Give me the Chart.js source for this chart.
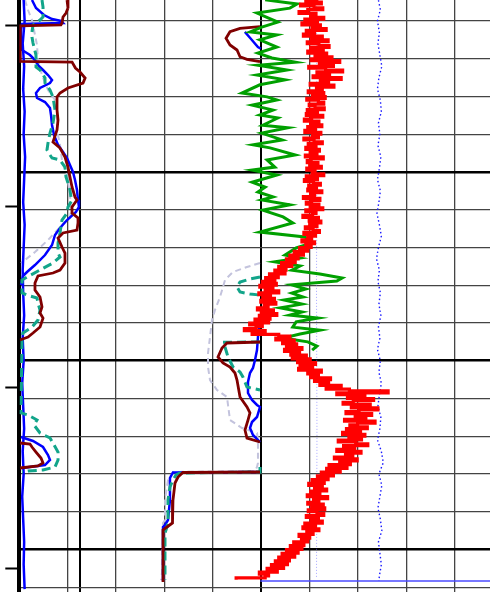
<!DOCTYPE html>
<html><head><meta charset="utf-8">
<script src="https://cdn.jsdelivr.net/npm/chart.js@4.4.0/dist/chart.umd.min.js"></script>
<style>html,body{margin:0;padding:0;background:#fff;}#wrap{width:490px;height:592px;position:relative;}</style>
</head><body><div id="wrap"><canvas id="c"></canvas></div>
<script>
// ---- axes / ticks ----
const depthTop = 1504.437, depthBottom = 1661.26;          // main depth scale
const gridDepths = [1510,1520,1530,1540,1550,1560,1570,1580,1590,1600,1610,1620,1630,1640,1650,1660];
const depthTickMin = 4992.818, depthTickMax = 5156.354;    // depth annotation axis
const depthTicks = [5000,5050,5100,5150];
const valueMin = 0, valueMax = 97.25;
const gridValues = [10,12.54,20,30,40,50,60,70,80,90];

// ---- curves: [depth, value] ----
const grCurve = [[1504.4,50.8],[1505.5,57.4],[1506.6,55.9],[1507.9,49.1],[1509.2,51.4],[1510.3,53.4],[1511.6,50.1],[1512.9,47.7],[1513.7,53.2],[1515.0,49.7],
[1516.9,53.2],[1518.5,49.3],[1519.8,52.2],[1520.9,57.0],[1521.7,49.3],[1523.0,55.3],[1524.3,49.1],[1525.6,54.9],[1526.9,49.7],[1529.1,46.0],
[1530.1,51.2],[1530.9,53.2],[1532.3,48.1],[1533.6,52.4],[1534.9,49.7],[1535.7,53.4],[1537.6,50.3],[1538.3,55.5],[1539.7,50.1],[1541.5,54.3],
[1542.8,48.3],[1543.6,51.8],[1545.5,57.0],[1546.8,51.2],[1548.7,52.8],[1549.5,48.1],[1550.8,53.2],[1552.7,48.1],[1554.0,50.8],[1555.3,49.3],
[1556.6,52.4],[1557.4,50.1],[1558.7,55.9],[1560.1,50.3],[1561.9,54.5],[1563.5,56.5],[1565.9,49.7],[1567.2,59.0],[1568.8,60.5],[1570.1,57.2],
[1572.0,54.9],[1572.8,58.0],[1573.8,52.8],[1574.9,58.0],[1576.0,56.3],[1577.0,62.1],[1578.1,66.7],[1578.9,65.6],[1579.9,56.3],[1581.0,59.2],
[1582.1,56.3],[1583.1,58.6],[1583.9,54.7],[1585.0,58.4],[1586.0,53.9],[1587.1,58.4],[1587.9,55.9],[1588.7,61.7],[1589.7,57.2],[1591.1,56.5],
[1591.9,62.1],[1592.9,58.0],[1594.0,54.5],[1595.0,59.6],[1596.1,61.5],[1597.2,60.5]];

const redTop = 1504.5, redStep = 0.5;
const redValues = [
61.8,59.2,62.4,58.1,60.9,62.7,59.6,57.8,61.3,60.2,
62.9,59.0,61.6,58.4,62.2,60.5,63.4,59.3,61.0,58.7,
62.6,60.4,63.8,59.5,61.9,64.0,60.2,62.8,59.6,63.5,
61.1,64.6,60.3,66.2,62.0,64.9,59.8,63.3,66.8,61.5,
64.1,60.7,66.5,62.2,63.9,60.1,65.0,61.4,62.6,59.7,
62.9,60.6,63.2,59.4,61.8,62.9,59.9,61.1,63.0,59.5,
61.6,59.3,62.7,60.4,58.9,61.9,60.2,62.5,59.6,61.2,
59.0,62.3,60.6,61.8,58.8,60.9,62.6,59.7,61.3,59.2,
62.0,60.1,61.5,59.1,62.8,60.3,59.5,61.7,60.0,62.4,
59.4,61.1,60.5,62.9,59.3,61.6,58.9,60.8,62.2,59.8,
61.4,59.6,62.5,60.2,61.0,58.7,62.1,60.4,59.3,61.9,
60.1,62.7,59.2,61.3,60.6,58.6,61.8,59.9,62.3,60.0,
61.5,59.1,60.7,62.0,58.8,61.2,59.6,60.4,58.4,61.0,
59.2,60.3,57.9,59.6,56.8,58.7,55.9,57.6,55.2,57.0,
54.2,56.3,53.6,55.1,52.8,54.9,51.7,53.5,50.9,52.8,
50.2,53.1,49.7,52.4,50.8,53.6,49.5,51.9,50.3,52.7,
49.9,53.0,50.6,51.4,49.2,52.5,50.0,53.2,49.6,51.8,
48.7,51.5,47.6,50.2,48.9,46.5,50.8,48.1,53.6,55.9,
53.0,56.8,54.4,57.3,55.2,58.4,54.8,57.9,56.1,59.3,
56.4,60.1,57.5,61.2,58.0,60.6,57.7,62.4,59.6,61.8,
60.2,64.3,61.0,63.9,62.1,66.5,63.4,68.2,76.2,65.6,
71.4,67.8,73.2,69.0,66.9,72.5,68.6,74.1,70.2,67.5,
72.8,69.4,71.6,67.2,73.5,69.9,68.3,71.9,67.6,70.5,
66.8,71.4,68.1,70.7,65.9,69.5,72.0,67.0,69.3,65.6,
70.6,67.4,68.9,65.1,69.8,66.2,68.4,64.0,67.7,63.5,
66.3,62.4,64.9,61.6,63.8,60.5,63.0,59.8,62.6,61.0,
63.5,60.2,62.1,59.5,63.7,60.8,61.9,59.6,62.8,60.4,
63.1,59.7,61.5,62.9,59.3,61.8,60.3,62.6,59.0,61.2,
58.6,61.9,59.4,60.7,57.8,60.0,58.3,59.6,56.7,58.8,
56.0,58.4,55.2,57.6,54.3,56.9,53.6,55.8,52.9,55.4,
52.1,54.6,51.2,53.3,49.6,51.5,50.8,44.8];

const maroonCurve = [[1504.44,9.86],[1506.56,10.06],[1507.9,9.65],[1508.94,9.03],[1510.53,8.82],[1511.0,8.6],[1511.3,0.2],[1520.7,0.2],[1520.9,10.9],[1522.45,11.6],
[1523.51,12.54],[1525.1,13.6],[1526.43,13.16],[1527.75,10.06],[1529.08,8.41],[1530.14,7.79],[1533.58,7.79],[1536.23,8.0],[1538.88,7.79],[1542.06,6.96],
[1543.65,8.41],[1546.03,9.44],[1548.68,10.06],[1551.33,10.47],[1553.98,10.89],[1556.63,11.51],[1557.42,11.92],[1559.27,10.89],[1560.86,10.89],[1562.19,12.13],
[1563.51,12.13],[1565.37,11.92],[1566.16,9.03],[1567.49,8.0],[1569.87,8.82],[1571.46,9.44],[1574.11,9.44],[1575.96,8.41],[1576.76,6.96],[1577.55,3.86],
[1579.41,3.24],[1581.26,3.24],[1583.12,4.28],[1585.76,4.69],[1587.35,4.28],[1588.7,4.9],[1591.06,4.28],[1592.65,2.83],[1593.71,1.8],[1594.51,0.14],null,
[1511.51,49.73],[1511.94,45.6],[1512.84,43.53],[1514.59,42.71],[1516.36,43.53],[1517.69,44.98],[1519.46,45.6],[1520.15,47.04],[1520.78,49.73],null,
[1595.04,49.73],[1595.3,42.91],[1596.63,41.88],[1599.01,41.05],[1600.6,42.08],[1601.66,43.53],[1603.25,44.56],[1605.1,44.98],[1609.61,45.6],[1612.25,47.04],
[1613.84,47.66],[1615.7,47.25],[1618.35,46.63],[1620.47,47.04],[1621.53,49.73],null,
[1621.79,0.14],[1622.06,2.21],[1622.85,2.62],[1624.18,3.45],[1625.76,4.48],[1627.09,4.9],[1627.88,3.86],[1628.41,0.14],null,
[1629.47,49.73],[1629.6,33.82],[1630.8,32.79],[1632.39,32.17],[1636.89,31.75],[1642.19,31.75],[1642.98,31.55],[1644.04,30.51],[1644.84,29.69],[1658.61,29.69]];

const blueCurve = [[1504.44,2.62],[1506.56,3.45],[1508.41,5.1],[1509.47,6.76],[1510.0,8.62],[1510.53,9.03],[1510.8,0.56],[1512.39,0.35],[1516.36,0.35],[1517.69,0.56],
[1519.01,2.21],[1520.33,3.24],[1521.66,3.86],[1522.98,4.9],[1524.31,5.93],[1525.63,6.76],[1526.43,6.34],[1527.75,4.28],[1529.08,3.45],[1530.4,3.66],
[1531.46,5.31],[1533.05,6.34],[1534.9,6.55],[1537.55,6.76],[1540.2,7.17],[1542.85,8.0],[1544.7,9.03],[1546.29,9.86],[1548.15,10.47],[1550.0,11.09],
[1552.12,11.51],[1554.77,11.92],[1557.42,12.13],[1559.27,12.33],[1560.6,11.71],[1562.72,9.86],[1564.84,8.41],[1566.69,7.38],[1569.34,6.76],[1571.99,5.31],
[1574.64,3.24],[1576.49,1.59],[1577.55,0.76],[1579.94,0.35],null,
[1512.9,46.6],[1514.5,47.7],[1516.9,49.3],[1517.3,49.9],null,
[1591.06,49.52],[1593.71,49.31],[1597.16,49.11],[1599.8,48.7],[1601.92,48.28],[1603.25,47.66],[1605.63,47.25],[1608.55,47.25],[1610.4,48.08],[1611.72,49.11],
[1612.25,49.73],[1614.9,49.11],[1616.23,48.08],[1617.82,47.66],[1619.67,48.28],[1621.53,49.73],null,
[1620.2,0.35],[1621.26,2.83],[1622.85,4.9],[1624.97,5.93],[1626.29,6.34],[1627.62,5.31],[1628.41,0.56],null,
[1629.47,49.73],[1629.6,31.75],[1631.06,31.13],[1636.89,31.13],[1642.19,30.72],[1643.51,30.1],[1644.04,29.69],[1658.3,29.69]];

const blueBaseCurve = [[1504.4,0.9],[1510,1.1],[1516,0.7],[1522,1.0],[1528,0.8],[1534,1.1],[1540,0.9],[1546,1.2],[1552,1.0],[1558,0.8],
[1564,1.1],[1570,0.9],[1576,0.7],[1582,0.8],[1588,1.0],[1594,0.7],[1600,0.9],[1606,0.6],[1612,0.8],[1618,1.0],
[1624,0.7],[1630,0.9],[1636,0.6],[1642,0.8],[1648,1.0],[1654,0.9],[1660.5,1.1]];

const tealCurve = [[1504.44,4.69],[1506.3,4.9],[1508.94,4.9],[1509.74,4.28],[1511.06,2.83],[1512.92,2.62],[1514.24,2.62],[1515.83,2.83],[1519.01,3.45],[1522.19,3.45],
[1522.98,4.28],[1525.1,5.31],[1526.43,5.31],[1528.28,6.34],[1530.14,6.96],[1533.58,7.38],[1537.02,6.96],[1539.67,6.34],[1542.32,5.93],[1544.18,5.72],
[1545.5,6.34],[1546.29,6.76],[1546.82,8.41],[1548.68,9.44],[1551.33,9.65],[1552.92,10.06],[1554.77,10.47],[1556.63,10.68],[1557.42,10.89],[1559.27,10.06],
[1560.86,9.86],[1562.72,8.82],[1566.16,8.41],[1568.81,8.0],[1571.46,8.0],[1572.52,8.41],[1574.11,6.96],[1575.96,4.28],[1577.82,1.59],[1578.61,0.56],
[1582.06,0.56],[1582.85,2.21],[1583.38,3.66],[1584.7,3.86],[1586.56,4.28],[1589.21,3.86],[1591.06,2.62],[1592.65,0.76],[1593.98,0.56],[1613.84,0.35],
[1614.37,1.8],[1615.7,3.66],[1617.02,3.04],[1619.14,4.28],[1620.47,6.34],[1621.79,6.96],[1624.18,8.0],[1626.29,8.0],[1628.15,7.38],[1628.94,4.9],
[1629.2,1.8],[1629.47,0.56],null,
[1577.82,49.73],[1578.35,47.66],[1579.14,45.6],[1580.47,44.98],[1581.79,45.6],[1582.32,47.66],[1582.59,49.73],null,
[1595.04,49.73],[1595.1,42.08],[1596.36,42.5],[1599.01,43.12],[1601.66,44.15],[1602.98,45.6],[1604.31,46.2],[1606.96,47.04],[1607.75,49.73],null,
[1628.15,49.73],[1629.47,49.73],[1629.73,33.2],[1630.27,32.38],[1631.59,31.75],[1633.45,31.13],[1636.89,30.72],[1642.98,30.72],[1644.04,30.51],[1645.63,30.1],[1658.08,30.1]];

const lavenderCurve = [[1504.44,1.18],[1507.09,1.8],[1509.74,2.62],[1512.39,3.04],[1516.36,3.66],[1520.33,3.86],[1524.31,4.69],[1528.28,5.93],[1530.93,7.38],[1533.58,7.79],
[1538.88,7.79],[1542.85,8.41],[1546.82,8.82],[1550.8,9.86],[1556.1,10.47],[1560.07,10.68],[1562.19,10.47],[1564.04,8.82],[1568.02,5.93],[1571.2,3.24],
[1573.31,1.18],[1574.11,0.35],null,
[1574.11,49.73],[1575.17,47.04],[1576.49,44.15],[1578.61,42.5],[1580.47,42.08],[1583.12,41.47],[1586.56,40.43],[1589.21,39.81],[1593.71,39.4],[1597.95,38.99],
[1601.66,38.99],[1605.1,39.4],[1607.75,40.85],[1609.61,42.91],[1611.72,43.12],[1615.7,43.53],[1617.82,46.0],[1619.14,49.11],[1621.0,49.31],[1627.09,49.31],
[1628.15,49.11],[1629.2,48.7],[1629.47,31.75],[1631.59,30.72],[1636.89,30.1],[1642.19,30.1],[1642.98,29.69],[1656.23,29.48],[1658.08,29.28]];

const bitCurve = [[1504.4,61.4],[1540,61.5],[1580,61.4],[1620,61.5],[1657.5,61.4]];

const calCurve = [[1504.5,74.2],[1507,74.6],[1510,74.0],[1513,74.4],[1516,74.1],[1519,74.5],[1522,74.9],[1525,74.3],[1528,74.0],[1531,74.6],
[1534,74.8],[1537,74.2],[1540,74.5],[1543,74.1],[1546,74.7],[1549,74.4],[1552,74.0],[1555,74.6],[1558,74.3],[1561,73.9],
[1564,74.4],[1567,74.8],[1570,74.2],[1573,73.8],[1576,74.4],[1579,74.1],[1582,74.6],[1585,74.3],[1588,74.7],[1591,74.2],
[1594,74.5],[1597,74.0],[1600,74.6],[1603,74.3],[1606,74.8],[1609,74.4],[1612,74.1],[1615,74.7],[1618,74.5],[1621,74.0],
[1624,74.8],[1627,75.2],[1630,74.3],[1633,74.9],[1636,74.5],[1639,74.1],[1642,74.6],[1645,74.9],[1648,74.2],[1651,74.5],
[1654,74.8],[1657,74.4],[1658.3,74.3]];

const bottomCurve = [[1658.35,49.8],[1658.35,97.3]];

// ---- build ----
function pts(curve){ return curve.map(p => p ? {x:p[1], y:p[0]} : {x:null, y:null}); }
const redPts = redValues.map((v,i) => ({x:v, y: redTop + i*redStep}));

function ds(data, color, width, extra){
  return Object.assign({data, borderColor:color, borderWidth:width, pointRadius:0, tension:0, fill:false, xAxisID:'x', yAxisID:'y'}, extra||{});
}

new Chart(document.getElementById('c'), {
  type:'line',
  data:{ datasets:[
    ds(redPts,'#ff0000',3.2,{stepped:true}),
    ds(pts(grCurve),'#00a000',3),
    ds(pts(calCurve),'#1a1aff',1.4,{borderDash:[1.5,2.5]}),
    ds(pts(bottomCurve),'#4a4aff',1.5),
    ds(pts(maroonCurve),'#800000',2.8),
    ds(pts(tealCurve),'#12a58a',3,{borderDash:[9,5]}),
    ds(pts(blueCurve),'#0000ff',2.5),
    ds(pts(blueBaseCurve),'#0000ff',2.5),
    ds(pts(lavenderCurve),'#c3c3dd',2,{borderDash:[6,4]}),
    ds(pts(bitCurve),'rgba(110,110,255,0.6)',1,{borderDash:[1,2]})
  ]},
  options:{
    responsive:true, maintainAspectRatio:false, animation:false, events:[],
    layout:{padding:0},
    plugins:{legend:{display:false}, tooltip:{enabled:false}},
    scales:{
      x:{type:'linear', min:valueMin, max:valueMax, position:'bottom',
         ticks:{display:false}, border:{display:false},
         grid:{drawTicks:false,
               color:c=> (c.tick && (c.tick.value===50||c.tick.value===12.54)) ? '#000' : '#444',
               lineWidth:c=> (c.tick && (c.tick.value===50||c.tick.value===12.54)) ? 2 : 1.3},
         afterFit(s){ s.height = 0; },
         afterBuildTicks(s){ s.ticks = gridValues.map(v=>({value:v})); }},
      y:{type:'linear', min:depthTop, max:depthBottom, reverse:true, position:'right',
         ticks:{display:false}, border:{display:false},
         grid:{drawTicks:false,
               color:c=> (c.tick && c.tick.value%50===0) ? '#000' : '#444',
               lineWidth:c=> (c.tick && c.tick.value%50===0) ? 2.6 : 1.3},
         afterFit(s){ s.width = 0; },
         afterBuildTicks(s){ s.ticks = gridDepths.map(v=>({value:v})); }},
      yd:{type:'linear', min:depthTickMin, max:depthTickMax, reverse:true, position:'left',
         ticks:{display:false}, border:{display:true, width:4, color:'#000'},
         grid:{drawOnChartArea:false, drawTicks:true, tickLength:14, tickWidth:2, tickColor:'#000'},
         afterFit(s){ s.width = 19.3; },
         afterBuildTicks(s){ s.ticks = depthTicks.map(v=>({value:v})); }}
    }
  }
});
</script></body></html>
